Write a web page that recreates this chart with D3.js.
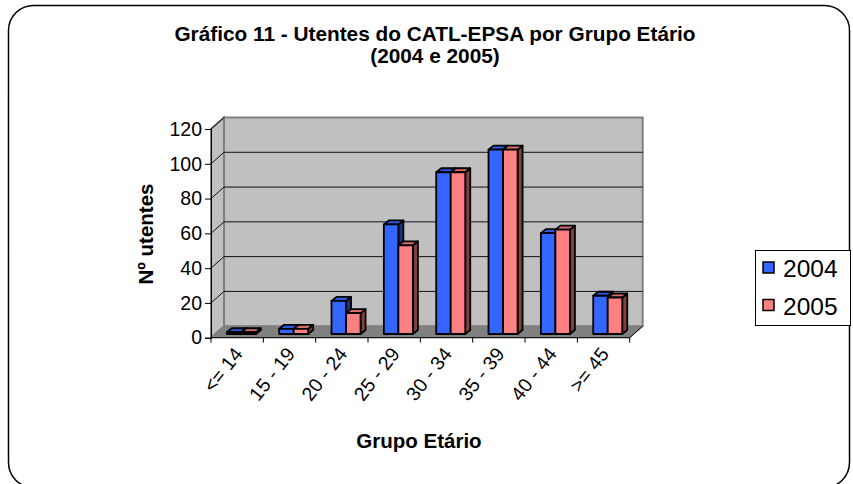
<!DOCTYPE html>
<html lang="pt">
<head>
  <meta charset="UTF-8">
  <title>Gráfico 11 - Utentes do CATL-EPSA por Grupo Etário</title>
  <script src="https://cdn.jsdelivr.net/npm/d3@7"></script>
</head>
<body style="margin:0;background:#fff">
<style>
  text { font-family: "Liberation Sans", Arial, sans-serif; fill: #000; }
</style>
<svg id="chart" width="853" height="484"></svg>
<script>
// data
var categories = ["<= 14", "15 - 19", "20 - 24", "25 - 29", "30 - 34", "35 - 39", "40 - 44", ">= 45"];
var series = ["2004", "2005"];
var values2004 = [1, 3, 19, 63, 93, 106, 58, 22];
var values2005 = [1, 3, 12, 51, 93, 106, 60, 21];
var yTicks = [0, 20, 40, 60, 80, 100, 120];

var svg = d3.select("#chart");

// front plane of the plot + depth offset of the 3d box
var pLeft = 211, pRight = 629.7, pBottom = 337.7, pTop = 129;
var dx = 13, dy = -11.5;
var bdx = 4.2, bdy = -3.7;   // where bar fronts sit in depth
var tdx = 5, tdy = -4;       // bar depth

var colors = {
  "2004": { front: "#3366ff", top: "#2d5ae0", side: "#1a3380" },
  "2005": { front: "#ff8080", top: "#d96d6d", side: "#804040" }
};

var x = d3.scaleBand().domain(categories).range([pLeft, pRight])
  .paddingInner(0.445).paddingOuter(0.2225);
var xs = d3.scaleBand().domain(series).range([0, x.bandwidth()]);
var y = d3.scaleLinear().domain([0, 120]).range([pBottom, pTop]);

// outer frame
svg.append("rect")
  .attr("x", 8.5).attr("y", 5.5).attr("width", 841).attr("height", 482)
  .attr("rx", 25).attr("ry", 25)
  .attr("fill", "#fff").attr("stroke", "#000").attr("stroke-width", 1.5);

// title
var title = svg.append("text")
  .attr("text-anchor", "middle")
  .style("font-weight", "bold").style("font-size", "20.8px");
title.append("tspan").attr("x", 435).attr("y", 41).text("Gráfico 11 - Utentes do CATL-EPSA por Grupo Etário");
title.append("tspan").attr("x", 435).attr("y", 63).text("(2004 e 2005)");

// walls
function pts(a) { return a.map(function(p) { return p.join(","); }).join(" "); }

svg.append("polygon") // back wall
  .attr("points", pts([[pLeft + dx, pTop + dy], [pRight + dx, pTop + dy], [pRight + dx, pBottom + dy], [pLeft + dx, pBottom + dy]]))
  .attr("fill", "#c0c0c0").attr("stroke", "#808080").attr("stroke-width", 2);

svg.append("polygon") // side wall
  .attr("points", pts([[pLeft, pTop], [pLeft + dx, pTop + dy], [pLeft + dx, pBottom + dy], [pLeft, pBottom]]))
  .attr("fill", "#c0c0c0").attr("stroke", "#808080").attr("stroke-width", 2);

svg.append("polygon") // floor
  .attr("points", pts([[pLeft, pBottom], [pLeft + dx, pBottom + dy], [pRight + dx, pBottom + dy], [pRight, pBottom]]))
  .attr("fill", "#808080").attr("stroke", "#808080").attr("stroke-width", 1);

// gridlines
var grid = svg.append("g").attr("stroke", "#111").attr("stroke-width", 1);
yTicks.filter(function(t) { return t > 0 && t < 120; }).forEach(function(t) {
  grid.append("line")
    .attr("x1", pLeft + dx).attr("x2", pRight + dx)
    .attr("y1", y(t) + dy).attr("y2", y(t) + dy);
});
yTicks.filter(function(t) { return t > 0; }).forEach(function(t) {
  grid.append("line")
    .attr("x1", pLeft).attr("y1", y(t))
    .attr("x2", pLeft + dx).attr("y2", y(t) + dy);
});

// bars
categories.forEach(function(c, i) {
  var vals = { "2004": values2004[i], "2005": values2005[i] };
  series.forEach(function(s) {
    var x0 = x(c) + xs(s) + bdx, w = xs.bandwidth();
    var y0 = y(0) + bdy, y1 = y(vals[s]) + bdy;
    var g = svg.append("g").attr("stroke", "#000").attr("stroke-width", 1.8).attr("stroke-linejoin", "round");
    g.append("polygon")
      .attr("points", pts([[x0 + w, y1], [x0 + w + tdx, y1 + tdy], [x0 + w + tdx, y0 + tdy], [x0 + w, y0]]))
      .attr("fill", colors[s].side);
    g.append("polygon")
      .attr("points", pts([[x0, y1], [x0 + tdx, y1 + tdy], [x0 + w + tdx, y1 + tdy], [x0 + w, y1]]))
      .attr("fill", colors[s].top);
    g.append("rect")
      .attr("x", x0).attr("y", y1).attr("width", w).attr("height", y0 - y1)
      .attr("fill", colors[s].front);
  });
});

// y axis
var yAxis = d3.axisLeft(y).tickValues(yTicks).tickSize(6).tickPadding(3);
var ya = svg.append("g").attr("transform", "translate(" + pLeft + ",0)").call(yAxis);
ya.select(".domain").attr("stroke", "#000");
ya.selectAll(".tick line").attr("stroke", "#000");
ya.selectAll("text").style("font-size", "19.5px").attr("font-family", null).attr("fill", "#000");

// x axis
var xa = svg.append("g").attr("transform", "translate(0," + pBottom + ")");
xa.append("line").attr("x1", pLeft).attr("x2", pRight).attr("stroke", "#000");
xa.append("line").attr("x1", pRight).attr("y1", 0).attr("x2", pRight + dx).attr("y2", dy).attr("stroke", "#000");
var bounds = categories.map(function(c) { return x(c) - x.step() * x.paddingOuter(); }).concat([pRight]);
xa.selectAll(".tk").data(bounds).enter().append("line")
  .attr("x1", function(d) { return d; }).attr("x2", function(d) { return d; })
  .attr("y1", 0).attr("y2", 5).attr("stroke", "#000");
xa.selectAll(".lbl").data(categories).enter().append("text")
  .attr("transform", function(d) { return "translate(" + (x(d) + x.bandwidth() / 2 - 2) + ",10) rotate(-52)"; })
  .attr("text-anchor", "end").attr("dy", "0.55em")
  .style("font-size", "19.5px")
  .text(function(d) { return d; });

// axis titles
svg.append("text")
  .attr("x", 419).attr("y", 448).attr("text-anchor", "middle")
  .style("font-weight", "bold").style("font-size", "20.5px")
  .text("Grupo Etário");
svg.append("text")
  .attr("transform", "translate(153,234) rotate(-90)").attr("text-anchor", "middle")
  .style("font-weight", "bold").style("font-size", "20.5px")
  .text("Nº utentes");

// legend
var lg = svg.append("g");
lg.append("rect").attr("x", 755.5).attr("y", 250.5).attr("width", 95).attr("height", 75)
  .attr("fill", "#fff").attr("stroke", "#000");
series.forEach(function(s, i) {
  lg.append("rect").attr("x", 763).attr("y", 262 + i * 37.5).attr("width", 11).attr("height", 11)
    .attr("fill", colors[s].front).attr("stroke", "#000").attr("stroke-width", 1.5);
  lg.append("text").attr("x", 783).attr("y", 277 + i * 37.5)
    .style("font-size", "24.5px").text(s);
});
</script>
</body>
</html>
